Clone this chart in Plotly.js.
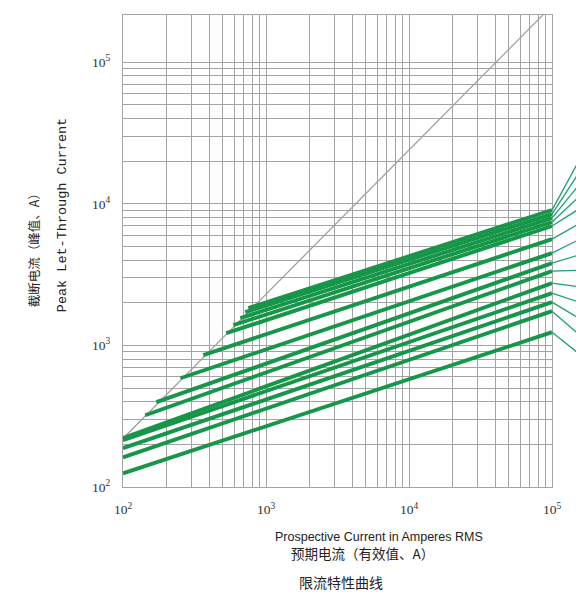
<!DOCTYPE html>
<html>
<head>
<meta charset="utf-8">
<script src="https://cdn.plot.ly/plotly-3.0.1.min.js"></script>
<style>html,body{margin:0;padding:0;background:#fff;}#chart{width:576px;height:595px;}</style>
</head>
<body>
<div id="chart"></div>
<script>
// Prospective (unlimited) peak line
const diagX = [100, 100000];
const diagY = [220, 250000];

// Current-limiting curves: start point on the diagonal, end at 10^5 A
const lineStartX = [100, 100, 100, 100, 100, 143, 171, 252, 364, 527, 591, 661, 716, 752];
const lineStartY = [125, 162, 188, 214, 222, 321, 397, 586, 853, 1219, 1390, 1556, 1717, 1833];
const lineEndX = [100000, 100000, 100000, 100000, 100000, 100000, 100000, 100000, 100000, 100000, 100000, 100000, 100000, 100000];
const lineEndY = [1239, 1745, 2020, 2339, 2752, 3345, 3811, 4483, 5629, 6960, 7427, 7925, 8457, 9027];

// Leader lines to the (cut-off) rating labels on the right edge
const leaderEdgeY = [839, 1143, 1507, 1987, 2578, 3400, 4411, 5722, 7427, 9478, 11710, 14470, 17880, 22080];

// Decades shown on the axes and their labels
const decades = [100, 1000, 10000, 100000];
const decadeLabels = ['10<sup>2</sup>', '10<sup>3</sup>', '10<sup>4</sup>', '10<sup>5</sup>'];

// Log-grid positions (2..9 times each decade below 10^5)
const minorGrid = [];
decades.slice(0, 3).forEach(d => { for (let k = 2; k <= 9; k++) minorGrid.push(d * k); });

const green = 'rgb(22,150,72)';
const grid = '#a3a3a3';

const traces = [{
  x: diagX, y: diagY, mode: 'lines', type: 'scatter',
  line: {color: '#a0a0a0', width: 1.3}, hoverinfo: 'skip'
}];
for (let i = 0; i < lineStartX.length; i++) {
  traces.push({
    x: [lineStartX[i], lineEndX[i]], y: [lineStartY[i], lineEndY[i]],
    mode: 'lines', type: 'scatter',
    line: {color: green, width: 3.9}, hoverinfo: 'skip'
  });
}

const shapes = lineEndY.map((v, i) => ({
  type: 'line', xref: 'paper', yref: 'y',
  x0: 1, y0: v, x1: 1.07, y1: leaderEdgeY[i],
  line: {color: 'rgb(30,160,110)', width: 1.3}
}));

const tickFont = {family: 'Liberation Serif, serif', size: 13.5, color: '#333'};

function axis(range, standoff) {
  return {
    type: 'log', range: range,
    tickmode: 'array', tickvals: decades, ticktext: decadeLabels,
    tickfont: tickFont, ticks: '', ticklabelstandoff: standoff,
    showgrid: true, gridcolor: grid, gridwidth: 1,
    minor: {tickmode: 'array', tickvals: minorGrid, showgrid: true, gridcolor: grid, gridwidth: 1, ticks: ''},
    showline: true, linecolor: grid, mirror: true, zeroline: false
  };
}

const layout = {
  width: 576, height: 595,
  margin: {l: 123, r: 24, t: 15, b: 108},
  paper_bgcolor: '#fff', plot_bgcolor: '#fff',
  showlegend: false,
  xaxis: axis([2, 5], 10),
  yaxis: axis([2, 5.333], 9),
  shapes: shapes,
  annotations: [
    {text: 'Prospective Current in Amperes RMS', xref: 'paper', yref: 'paper', x: 0.597, y: -0.106,
     showarrow: false, xanchor: 'center', yanchor: 'middle',
     font: {family: 'Liberation Sans, Arial, sans-serif', size: 12.5, color: '#222'}},
    {text: '预期电流（有效值、A）', xref: 'paper', yref: 'paper', x: 0.559, y: -0.140,
     showarrow: false, xanchor: 'center', yanchor: 'middle',
     font: {family: 'Noto Sans CJK SC, sans-serif', size: 13.5, color: '#222'}},
    {text: '限流特性曲线', xref: 'paper', yref: 'paper', x: 0.508, y: -0.201,
     showarrow: false, xanchor: 'center', yanchor: 'middle',
     font: {family: 'Noto Sans CJK SC, sans-serif', size: 14, color: '#222'}},
    {text: '截断电流（峰值、A）', xref: 'paper', yref: 'paper', x: -0.21, y: 0.508,
     showarrow: false, xanchor: 'center', yanchor: 'middle', textangle: -90,
     font: {family: 'Noto Sans CJK SC, sans-serif', size: 12.5, color: '#222'}},
    {text: 'Peak Let-Through Current', xref: 'paper', yref: 'paper', x: -0.142, y: 0.576,
     showarrow: false, xanchor: 'center', yanchor: 'middle', textangle: -90,
     font: {family: 'Liberation Mono, monospace', size: 13.5, color: '#222'}}
  ]
};

Plotly.newPlot('chart', traces, layout, {staticPlot: true, displayModeBar: false});
</script>
</body>
</html>
